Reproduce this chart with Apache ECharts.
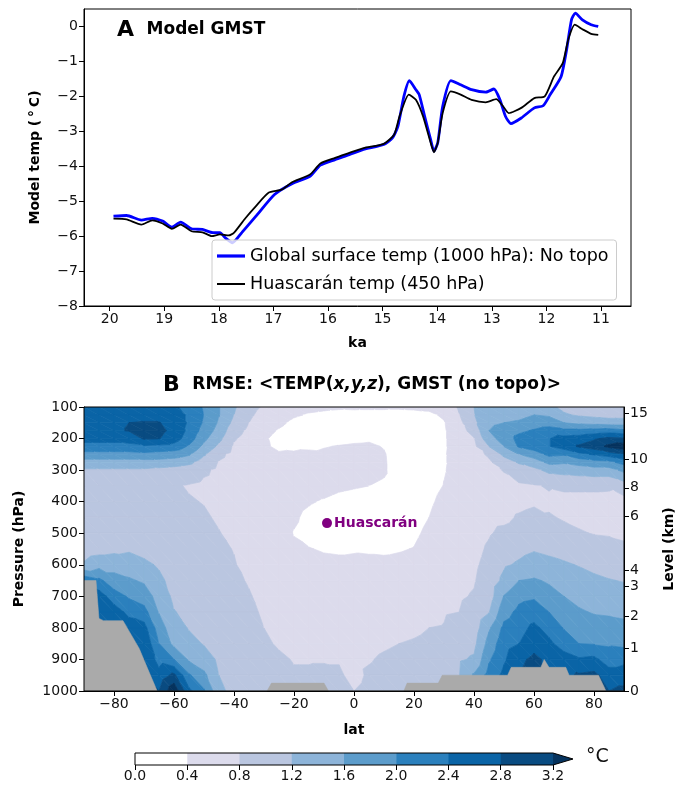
<!DOCTYPE html>
<html><head><meta charset="utf-8">
<script src="https://cdn.jsdelivr.net/npm/echarts@6/dist/echarts.min.js"></script>
<style>html,body{margin:0;padding:0;background:#fff}#c{width:684px;height:790px}</style>
</head><body><div id="c"></div><script>
// ---------- Panel A data ----------
const kaSurface = [19.93,19.69,19.42,19.22,19.03,18.86,18.70,18.50,18.30,18.11,17.98,17.88,17.75,17.58,17.32,16.98,16.66,16.33,16.14,15.87,15.61,15.35,14.98,14.82,14.72,14.61,14.51,14.39,14.33,14.23,14.12,14.06,13.99,13.90,13.75,13.57,13.37,13.11,12.96,12.85,12.75,12.65,12.46,12.22,12.06,11.93,11.73,11.63,11.54,11.47,11.34,11.18,11.05];
const tempSurface = [-5.43,-5.41,-5.54,-5.49,-5.57,-5.74,-5.60,-5.79,-5.81,-5.90,-5.90,-6.05,-6.19,-5.90,-5.43,-4.81,-4.50,-4.29,-3.97,-3.81,-3.67,-3.52,-3.38,-3.19,-2.86,-2.00,-1.55,-1.81,-1.95,-2.57,-3.24,-3.57,-3.33,-2.29,-1.55,-1.67,-1.81,-1.88,-1.79,-2.10,-2.57,-2.78,-2.62,-2.33,-2.27,-1.95,-1.43,-0.67,0.19,0.38,0.19,0.05,0.00];
const kaHuascaran = [19.93,19.69,19.42,19.22,19.03,18.86,18.70,18.50,18.30,18.13,17.98,17.82,17.72,17.51,17.32,17.09,16.85,16.66,16.33,16.14,15.87,15.61,15.35,14.98,14.79,14.69,14.52,14.39,14.26,14.12,14.06,13.99,13.90,13.75,13.57,13.37,13.11,12.92,12.79,12.69,12.46,12.22,12.03,11.86,11.70,11.60,11.48,11.34,11.18,11.05];
const tempHuascaran = [-5.50,-5.52,-5.67,-5.55,-5.64,-5.79,-5.67,-5.86,-5.89,-6.00,-5.95,-5.98,-5.90,-5.48,-5.14,-4.76,-4.67,-4.46,-4.24,-3.92,-3.76,-3.62,-3.48,-3.36,-3.10,-2.57,-1.95,-2.10,-2.57,-3.33,-3.60,-3.33,-2.48,-1.86,-1.95,-2.10,-2.17,-2.08,-2.29,-2.48,-2.33,-2.05,-2.00,-1.43,-1.05,-0.38,0.05,-0.08,-0.21,-0.24];
const kaTicks = [20,19,18,17,16,15,14,13,12,11];
const tempTicks = [-8,-7,-6,-5,-4,-3,-2,-1,0];

// ---------- Panel B data ----------
const lats = [-90,-85,-80,-75,-70,-65,-60,-55,-50,-45,-40,-35,-30,-25,-20,-15,-10,-5,0,5,10,15,20,25,30,35,40,45,50,55,60,65,70,75,80,85,90];
const pressures = [100,125,150,175,200,225,250,275,300,350,400,450,500,550,600,650,700,750,800,850,900,950,1000];
// RMSE (deg C), one row per latitude, values at each pressure level
const rmse = [
[2.55,2.6,2.65,2.65,2.5,2.3,1.85,1.45,1.15, 1.0,0.95,0.95,0.95,1.0,1.25,2.3,2.7,2.7,2.7,2.7,2.7,2.7,2.7],
[2.55,2.65,2.7,2.7,2.5,2.3,1.85,1.45,1.15, 1.0,0.95,0.95,0.95,1.05,1.45,2.1,2.6,2.7,2.7,2.7,2.7,2.7,2.7],
[2.55,2.7,2.75,2.75,2.5,2.3,1.85,1.45,1.15, 0.95,0.9,0.9,0.95,1.1,1.45,1.75,2.2,2.6,2.7,2.7,2.7,2.7,2.7],
[2.55,2.7,2.8,2.82,2.55,2.3,1.85,1.45,1.15, 0.95,0.9,0.9,0.95,1.15,1.4,1.65,1.95,2.3,2.6,2.7,2.7,2.7,2.7],
[2.5,2.7,2.82,2.95,2.85,2.35,1.9,1.45,1.15, 0.9,0.85,0.85,0.9,1.05,1.3,1.55,1.8,2.15,2.55,2.75,2.8,2.8,2.8],
[2.45,2.65,2.82,2.9,2.82,2.3,1.85,1.45,1.1, 0.9,0.85,0.85,0.9,1.0,1.15,1.3,1.45,1.58,1.8,2.0,2.25,2.55,2.8],
[2.45,2.55,2.65,2.7,2.6,2.25,1.8,1.4,1.05, 0.83,0.81,0.82,0.85,0.9,0.98,1.05,1.12,1.22,1.35,1.5,2.0,2.9,3.5],
[2.3,2.35,2.35,2.3,2.2,1.95,1.65,1.3,0.98, 0.78,0.82,0.82,0.85,0.88,0.92,0.98,1.04,1.1,1.18,1.3,1.55,2.05,2.5],
[1.95,2.0,1.95,1.85,1.7,1.5,1.25,1.0,0.85, 0.74,0.79,0.83,0.87,0.91,0.95,0.99,1.03,1.07,1.12,1.18,1.35,1.7,2.05],
[1.62,1.62,1.55,1.45,1.3,1.12,0.88,0.78,0.74, 0.7,0.73,0.77,0.81,0.85,0.89,0.93,0.97,1.01,1.05,1.1,1.15,1.2,1.3],
[1.25,1.2,1.1,0.95,0.84,0.75,0.7,0.67,0.65, 0.63,0.66,0.7,0.74,0.79,0.82,0.85,0.88,0.91,0.94,0.97,1.0,1.04,1.08],
[0.95,0.88,0.8,0.72,0.66,0.6,0.57,0.55,0.54, 0.53,0.54,0.57,0.61,0.66,0.71,0.78,0.82,0.85,0.88,0.91,0.93,0.95,0.97],
[0.75,0.65,0.55,0.48,0.43,0.44,0.47,0.49,0.5, 0.52,0.52,0.55,0.58,0.62,0.66,0.7,0.73,0.77,0.8,0.83,0.86,0.88,0.9],
[0.6,0.52,0.45,0.38,0.33,0.35,0.43,0.46,0.48, 0.5,0.5,0.5,0.52,0.55,0.58,0.62,0.66,0.7,0.74,0.78,0.83,0.85,0.87],
[0.5,0.43,0.35,0.3,0.3,0.33,0.45,0.47,0.5, 0.5,0.47,0.43,0.39,0.44,0.5,0.55,0.6,0.65,0.7,0.75,0.79,0.82,0.85],
[0.46,0.38,0.3,0.27,0.27,0.32,0.5,0.5,0.5, 0.5,0.42,0.35,0.33,0.41,0.47,0.53,0.58,0.63,0.68,0.73,0.79,0.82,0.84],
[0.44,0.36,0.28,0.25,0.27,0.38,0.47,0.5,0.5, 0.48,0.38,0.3,0.28,0.38,0.46,0.52,0.58,0.63,0.68,0.74,0.79,0.83,0.85],
[0.43,0.34,0.26,0.24,0.28,0.42,0.5,0.52,0.5, 0.44,0.34,0.28,0.27,0.37,0.45,0.52,0.58,0.64,0.7,0.76,0.79,0.82,0.84],
[0.44,0.33,0.25,0.24,0.32,0.45,0.5,0.52,0.52, 0.42,0.32,0.27,0.27,0.38,0.45,0.52,0.58,0.64,0.7,0.75,0.77,0.76,0.8],
[0.44,0.32,0.24,0.24,0.35,0.46,0.5,0.5,0.48, 0.4,0.3,0.25,0.26,0.37,0.46,0.53,0.59,0.65,0.71,0.76,0.79,0.82,0.84],
[0.44,0.32,0.24,0.24,0.3,0.38,0.43,0.44,0.44, 0.36,0.28,0.24,0.26,0.36,0.46,0.54,0.6,0.66,0.72,0.78,0.82,0.84,0.86],
[0.44,0.3,0.22,0.2,0.2,0.21,0.22,0.23,0.24, 0.25,0.25,0.25,0.3,0.38,0.47,0.55,0.62,0.68,0.74,0.8,0.84,0.86,0.88],
[0.45,0.32,0.22,0.2,0.2,0.21,0.22,0.23,0.24, 0.25,0.26,0.3,0.35,0.41,0.49,0.57,0.64,0.7,0.76,0.82,0.86,0.88,0.9],
[0.46,0.35,0.25,0.22,0.22,0.23,0.24,0.25,0.26, 0.3,0.35,0.4,0.46,0.52,0.58,0.64,0.7,0.75,0.8,0.85,0.88,0.9,0.92],
[0.5,0.44,0.38,0.36,0.36,0.36,0.37,0.37,0.38, 0.41,0.48,0.54,0.6,0.65,0.7,0.73,0.76,0.78,0.81,0.86,0.9,0.93,0.95],
[0.85,0.78,0.7,0.64,0.6,0.57,0.55,0.53,0.52, 0.53,0.55,0.58,0.62,0.66,0.7,0.74,0.77,0.8,0.9,1.05,1.15,1.18,1.2],
[1.2,1.18,1.1,0.95,0.78,0.72,0.68,0.65,0.63, 0.6,0.6,0.62,0.66,0.7,0.75,0.78,0.82,0.9,1.0,1.1,1.25,1.65,1.95],
[1.4,1.48,1.55,1.6,1.5,1.2,0.85,0.75,0.7, 0.66,0.66,0.7,0.77,0.85,0.9,0.95,1.0,1.18,1.55,1.75,1.95,2.15,2.3],
[1.3,1.45,1.6,1.7,1.72,1.6,1.3,1.0,0.82, 0.68,0.66,0.72,0.88,1.02,1.15,1.3,1.62,1.85,2.1,2.25,2.35,2.5,2.6],
[1.35,1.5,1.65,1.9,2.15,2.05,1.6,1.25,1.0, 0.75,0.7,0.84,0.95,1.1,1.25,1.6,1.9,2.1,2.25,2.4,2.7,2.8,2.8],
[1.45,1.6,1.75,2.05,2.3,2.2,1.8,1.4,1.1, 0.78,0.75,0.9,1.02,1.17,1.35,1.65,1.95,2.2,2.5,2.65,2.9,3.0,3.0],
[1.3,1.55,1.8,2.2,2.38,2.38,2.1,1.7,1.3, 0.82,0.76,0.82,0.92,1.12,1.3,1.55,1.75,2.0,2.25,2.5,2.7,2.7,2.7],
[1.1,1.25,1.6,2.1,2.55,2.6,2.05,1.65,1.35, 0.85,0.72,0.78,0.86,1.05,1.25,1.42,1.6,1.78,1.98,2.2,2.6,2.7,2.7],
[1.0,1.15,1.5,2.1,2.6,2.85,2.3,1.75,1.4, 0.85,0.72,0.75,0.82,0.98,1.18,1.35,1.48,1.65,1.85,2.0,2.45,2.85,2.85],
[0.95,1.1,1.45,2.15,2.75,3.0,2.45,1.85,1.45, 0.85,0.72,0.74,0.79,0.92,1.1,1.28,1.45,1.57,1.8,1.98,2.5,2.9,2.9],
[0.92,1.05,1.4,2.2,2.9,3.3,2.6,1.9,1.45, 0.84,0.72,0.74,0.78,0.88,1.05,1.22,1.4,1.55,1.75,1.95,2.2,2.6,2.8],
[0.95,1.05,1.4,2.1,2.85,3.45,2.8,2.15,1.7, 1.0,0.68,0.72,0.76,0.84,1.0,1.18,1.35,1.52,1.7,1.9,2.3,2.6,2.9]
];
const levels = [0,0.4,0.8,1.2,1.6,2.0,2.4,2.8,3.2];
const levelColors = ['#ffffff','#dcdbec','#bac6e0','#8db4d9','#5c9ccb','#2b80bd','#0a64a6','#094b81','#06335e'];
// Surface (topography) pressure along latitude
const groundLat = [-90,-86,-85,-83.5,-77,-71.6,-68.3,-65.6,-29,-27.5,-10,-8.5,16.6,17.7,28.1,29.4,51.2,52.4,62.3,63.4,65,70.6,71.7,81.5,84,90];
const groundP   = [650,650,770,777,777,865,940,1000,1000,975,975,1000,1000,975,975,950,950,925,925,900,925,925,950,950,1000,1000];
const latTicks = [-80,-60,-40,-20,0,20,40,60,80];
const levelKm = [0,1,2,3,4,6,8,10,15];
const levelP  = [1000,866,764,669,617,447,356,266,120];
const huascaran = {lat:-9, p:468, name:'Huascarán'};
const legendNames = ['Global surface temp (1000 hPa): No topo', 'Huascarán temp (450 hPa)'];

// ---------- helpers ----------
const minus = v => String(v).replace('-', '\u2212');
function clipPoly(poly, t, above) {
  const out = [];
  for (let k = 0; k < poly.length; k++) {
    const a = poly[k], b = poly[(k + 1) % poly.length];
    const ina = above ? a[2] >= t : a[2] <= t;
    const inb = above ? b[2] >= t : b[2] <= t;
    if (ina) out.push(a);
    if (ina !== inb) {
      const f = (t - a[2]) / (b[2] - a[2]);
      out.push([a[0] + f * (b[0] - a[0]), a[1] + f * (b[1] - a[1]), t]);
    }
  }
  return out;
}
const cells = [];
for (let i = 0; i < lats.length - 1; i++)
  for (let j = 0; j < pressures.length - 1; j++)
    cells.push([lats[i], pressures[j], i, j]);

function renderCell(params, api) {
  const i = api.value(2), j = api.value(3);
  const A = [lats[i], pressures[j], rmse[i][j]];
  const B = [lats[i+1], pressures[j], rmse[i+1][j]];
  const C = [lats[i+1], pressures[j+1], rmse[i+1][j+1]];
  const D = [lats[i], pressures[j+1], rmse[i][j+1]];
  const tris = [[A, B, C], [A, C, D]];
  const children = [];
  tris.forEach(tri => {
    for (let k = 0; k < levelColors.length; k++) {
      let poly = tri;
      if (k > 0) poly = clipPoly(poly, levels[k], true);
      if (k < levelColors.length - 1 && poly.length >= 3) poly = clipPoly(poly, levels[k + 1], false);
      if (poly.length >= 3) {
        children.push({
          type: 'polygon',
          shape: {points: poly.map(q => api.coord([q[0], q[1]]))},
          style: {fill: levelColors[k], stroke: levelColors[k], lineWidth: 0.7}
        });
      }
    }
  });
  return {type: 'group', children};
}

function renderColorbar(params, api) {
  const children = [];
  const y0 = api.coord([0, 1])[1], y1 = api.coord([0, 0])[1];
  for (let k = 0; k < levels.length - 1; k++) {
    const x0 = api.coord([levels[k], 0])[0], x1 = api.coord([levels[k + 1], 0])[0];
    children.push({type: 'rect', shape: {x: x0, y: y0, width: x1 - x0 + 0.5, height: y1 - y0},
      style: {fill: levelColors[k]}});
  }
  const xe = api.coord([levels[levels.length - 1], 0])[0];
  const tip = xe + 20;
  children.push({type: 'polygon', shape: {points: [[xe, y0], [tip, (y0 + y1) / 2], [xe, y1]]},
    style: {fill: levelColors[levelColors.length - 1]}});
  const xs = api.coord([levels[0], 0])[0];
  children.push({type: 'polygon', shape: {points: [[xs, y0], [xe, y0], [tip, (y0 + y1) / 2], [xe, y1], [xs, y1]]},
    style: {fill: 'none', stroke: '#000', lineWidth: 1}});
  return {type: 'group', children};
}

const axisTxt = {fontSize: 14, color: '#111', fontFamily: 'DejaVu Sans'};
const nameTxt = {fontSize: 14, fontWeight: 'bold', color: '#000', fontFamily: 'DejaVu Sans'};
const tickStyle = {show: true, length: 5, lineStyle: {color: '#000', width: 1}};

const chart = echarts.init(document.getElementById('c'), null, {renderer: 'canvas'});
chart.setOption({
  animation: false,
  backgroundColor: '#fff',
  textStyle: {fontFamily: 'DejaVu Sans'},
  title: [
    {text: '{a|A}  {b|Model GMST}', left: 112, top: 14,
     textStyle: {rich: {a: {fontSize: 22, fontWeight: 'bold', color: '#000'}, b: {fontSize: 17, fontWeight: 'bold', color: '#000'}}}},
    {text: '{a|B}  {b|RMSE: <TEMP(}{i|x,y,z}{b|), GMST (no topo)>}', left: 357, textAlign: 'center', top: 369,
     textStyle: {rich: {a: {fontSize: 22, fontWeight: 'bold', color: '#000'}, b: {fontSize: 17, fontWeight: 'bold', color: '#000'},
       i: {fontSize: 17, fontWeight: 'bold', fontStyle: 'italic', color: '#000'}}}}
  ],
  legend: {
    data: [
      {name: legendNames[0], icon: 'path://M0,0H28V3.2H0Z', itemStyle: {color: '#0000ff'}},
      {name: legendNames[1], icon: 'path://M0,0H28V2H0Z', itemStyle: {color: '#000000'}}
    ],
    orient: 'vertical', left: 212, top: 240, itemWidth: 28, itemHeight: 14, itemGap: 10,
    padding: [7, 8, 7, 5], backgroundColor: 'rgba(255,255,255,0.8)', borderColor: '#cccccc', borderWidth: 1, borderRadius: 3,
    textStyle: {fontSize: 17.5, color: '#000', fontFamily: 'DejaVu Sans'}
  },
  grid: [
    {left: 84, top: 9, width: 547, height: 297, show: true, borderColor: '#000', borderWidth: 1, backgroundColor: 'transparent', z: 10},
    {left: 84, top: 407, width: 547, height: 284, show: true, borderColor: '#000', borderWidth: 1, backgroundColor: 'transparent', z: 10},
    {left: 135, top: 753, width: 418, height: 12}
  ],
  xAxis: [
    {gridIndex: 0, type: 'value', min: 10.45, max: 20.47, inverse: true,
     name: 'ka', nameLocation: 'middle', nameGap: 30, nameTextStyle: nameTxt,
     axisLine: {show: true, onZero: false, lineStyle: {color: '#000'}},
     axisTick: Object.assign({customValues: kaTicks}, tickStyle),
     axisLabel: Object.assign({customValues: kaTicks, margin: 6}, axisTxt),
     splitLine: {show: false}},
    {gridIndex: 1, type: 'value', min: -90, max: 90,
     name: 'lat', nameLocation: 'middle', nameGap: 32, nameTextStyle: nameTxt,
     axisLine: {show: true, onZero: false, lineStyle: {color: '#000'}},
     axisTick: Object.assign({customValues: latTicks}, tickStyle),
     axisLabel: Object.assign({customValues: latTicks, margin: 6, formatter: minus}, axisTxt),
     splitLine: {show: false}},
    {gridIndex: 2, type: 'value', min: 0, max: 3.2, interval: 0.4,
     axisLine: {show: false, onZero: false},
     axisTick: tickStyle,
     axisLabel: Object.assign({margin: 4, formatter: v => v.toFixed(1)}, axisTxt),
     splitLine: {show: false}}
  ],
  yAxis: [
    {gridIndex: 0, type: 'value', min: -8, max: 0.5,
     name: 'Model temp (\u2009°\u2009C)', nameLocation: 'middle', nameGap: 42, nameRotate: 90, nameTextStyle: nameTxt,
     axisLine: {show: true, onZero: false, lineStyle: {color: '#000'}},
     axisTick: Object.assign({customValues: tempTicks}, tickStyle),
     axisLabel: Object.assign({customValues: tempTicks, margin: 6, formatter: minus}, axisTxt),
     splitLine: {show: false}},
    {gridIndex: 1, type: 'value', min: 100, max: 1000, interval: 100, inverse: true,
     name: 'Pressure (hPa)', nameLocation: 'middle', nameGap: 58, nameRotate: 90, nameTextStyle: nameTxt,
     axisLine: {show: true, onZero: false, lineStyle: {color: '#000'}},
     axisTick: tickStyle,
     axisLabel: Object.assign({margin: 6, formatter: v => String(v)}, axisTxt),
     splitLine: {show: false}},
    {gridIndex: 1, type: 'value', min: 100, max: 1000, inverse: true, position: 'right',
     name: 'Level (km)', nameLocation: 'middle', nameGap: 38, nameRotate: 90, nameTextStyle: nameTxt,
     axisLine: {show: true, onZero: false, lineStyle: {color: '#000'}},
     axisTick: Object.assign({customValues: levelP}, tickStyle),
     axisLabel: Object.assign({customValues: levelP, margin: 6,
       formatter: v => { const k = levelP.indexOf(v); return k >= 0 ? String(levelKm[k]) : ''; }}, axisTxt),
     splitLine: {show: false}},
    {gridIndex: 2, type: 'value', min: 0, max: 1, show: false}
  ],
  graphic: [
    {type: 'text', left: 586, top: 748, style: {text: '°C', fontSize: 19, fill: '#111', fontFamily: 'DejaVu Sans'}}
  ],
  series: [
    {name: legendNames[0], type: 'line', xAxisIndex: 0, yAxisIndex: 0,
     data: kaSurface.map((k, i) => [k, tempSurface[i]]), symbol: 'none', smooth: 0.2,
     lineStyle: {color: '#0000ff', width: 2.8}, itemStyle: {color: '#0000ff'}, z: 2},
    {name: legendNames[1], type: 'line', xAxisIndex: 0, yAxisIndex: 0,
     data: kaHuascaran.map((k, i) => [k, tempHuascaran[i]]), symbol: 'none', smooth: 0.2,
     lineStyle: {color: '#000000', width: 1.8}, itemStyle: {color: '#000000'}, z: 3},
    {type: 'custom', xAxisIndex: 1, yAxisIndex: 1, data: cells, renderItem: renderCell, clip: true, silent: true, z: 1},
    {type: 'line', xAxisIndex: 1, yAxisIndex: 1, data: groundLat.map((l, i) => [l, groundP[i]]), symbol: 'none',
     lineStyle: {width: 0.5, color: '#aaaaaa'}, areaStyle: {color: '#aaaaaa', opacity: 1, origin: 'end'}, z: 4, silent: true},
    {type: 'scatter', xAxisIndex: 1, yAxisIndex: 1, data: [[huascaran.lat, huascaran.p]], symbolSize: 10,
     itemStyle: {color: '#800080', opacity: 1}, z: 6,
     label: {show: true, position: 'right', distance: 2, formatter: huascaran.name, color: '#800080', fontWeight: 'bold', fontSize: 14, fontFamily: 'DejaVu Sans'}},
    {type: 'custom', xAxisIndex: 2, yAxisIndex: 3, data: [[0, 0]], renderItem: renderColorbar, clip: false, silent: true}
  ]
});
</script></body></html>
